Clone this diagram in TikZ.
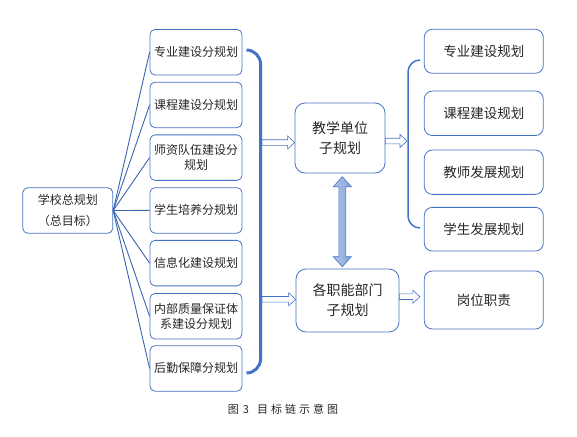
\documentclass[tikz,border=0pt]{standalone}
\usepackage{fontspec}
\setmainfont{Noto Sans CJK SC}
\usetikzlibrary{calc}
\definecolor{bl}{HTML}{4472C4}
\definecolor{fan}{HTML}{3A64B0}
\definecolor{txt}{HTML}{262626}
\definecolor{afill}{HTML}{8FAADC}
\newcommand\hollowarr[2]{%
  \draw[bl, line width=0.6pt, fill=white] ($(#1)+(0,-2.8)$) -- ($(#2)+(-7,-2.8)$) -- ($(#2)+(-7,-6.5)$) -- (#2) -- ($(#2)+(-7,6.5)$) -- ($(#2)+(-7,2.8)$) -- ($(#1)+(0,2.8)$) -- cycle;}
\tikzset{
  base/.style={draw=bl, line width=0.8pt, inner sep=0pt, align=center, text=txt},
  mbox/.style={base, rounded corners=5pt, minimum width=92pt, minimum height=45.5pt, font=\fontsize{12}{15}\selectfont},
  lbox/.style={base, rounded corners=5pt, minimum width=90pt, minimum height=45.5pt, font=\fontsize{12}{20.5}\selectfont},
  cbox/.style={base, rounded corners=10pt, font=\fontsize{14}{20}\selectfont},
  rbox/.style={base, rounded corners=8pt, minimum width=119pt, font=\fontsize{13.5}{18}\selectfont},
  fanline/.style={fan, line width=0.9pt},
}
\begin{document}
\begin{tikzpicture}[x=1pt,y=-1pt]
\useasboundingbox (0,0) rectangle (577,436);
% left box
\node[lbox] (L) at (67.8,210.5) {学校总规划\\（总目标）};
% middle column
\node[mbox] (m1) at (196,52.2) {专业建设分规划};
\node[mbox] (m2) at (196,104.9) {课程建设分规划};
\node[mbox] (m3) at (196,157.6) {师资队伍建设分\\规划};
\node[mbox] (m4) at (196,210.4) {学生培养分规划};
\node[mbox] (m5) at (196,263.1) {信息化建设规划};
\node[mbox] (m6) at (196,316.2) {内部质量保证体\\系建设分规划};
\node[mbox] (m7) at (196,368.4) {后勤保障分规划};
\foreach \i in {1,...,7} \draw[fanline] (L.east) -- (m\i.west);
% big bracket
\draw[bl, line width=3pt, rounded corners=14pt] (246.5,50) -- (260.5,50) -- (260.5,373) -- (246.5,373);
% centre boxes
\node[cbox, minimum width=90pt, minimum height=70pt] (jx) at (340,138) {教学单位\\子规划};
\node[cbox, minimum width=103pt, minimum height=63pt] (zn) at (347.5,300.5) {各职能部门\\子规划};
% right boxes
\node[rbox, minimum height=44pt] (r1) at (483.8,51.3) {专业建设规划};
\node[rbox, minimum height=44.5pt] (r2) at (483.8,113.3) {课程建设规划};
\node[rbox, minimum height=44.3pt] (r3) at (483.8,172.2) {教师发展规划};
\node[rbox, minimum height=43.7pt] (r4) at (483.8,229.2) {学生发展规划};
\node[rbox, minimum height=58pt] (gw) at (483.8,300) {岗位职责};
% right bracket
\draw[bl, line width=1.5pt, rounded corners=12pt] (420,60) -- (408,60) -- (408,228) -- (420,228);
% hollow arrows
\coordinate (a1s) at (262,142.5);
\coordinate (a1e) at (jx.west |- a1s);
\hollowarr{a1s}{a1e}
\coordinate (a2s) at ($(jx.east)+(0,3)$);
\coordinate (a2e) at (407,141);
\hollowarr{a2s}{a2e}
\coordinate (a3s) at (262,299.3);
\coordinate (a3e) at (zn.west |- a3s);
\hollowarr{a3s}{a3e}
\coordinate (a4s) at ($(zn.east)+(0,-3.8)$);
\coordinate (a4e) at ($(gw.west |- a4s)+(-4,0)$);
\hollowarr{a4s}{a4e}
% double arrow
\coordinate (da1) at (342.3,176.7);
\coordinate (da2) at (342.3,266.7);
\draw[bl, line width=0.6pt, left color=afill!70!white, right color=afill!90!bl] (da1) -- ($(da1)+(9,10)$) -- ($(da1)+(3.5,10)$) -- ($(da2)+(3.5,-10)$) -- ($(da2)+(9,-10)$) -- (da2) -- ($(da2)+(-9,-10)$) -- ($(da2)+(-3.5,-10)$) -- ($(da1)+(-3.5,10)$) -- ($(da1)+(-9,10)$) -- cycle;
% caption
\node[text=txt, font=\fontsize{11}{12}\selectfont, inner sep=0pt] (cap) at (283,409) {图\hspace{4pt}3\hspace{8pt}目\hspace{3pt}标\hspace{3pt}链\hspace{3pt}示\hspace{3pt}意\hspace{3pt}图};
\end{tikzpicture}
\end{document}
